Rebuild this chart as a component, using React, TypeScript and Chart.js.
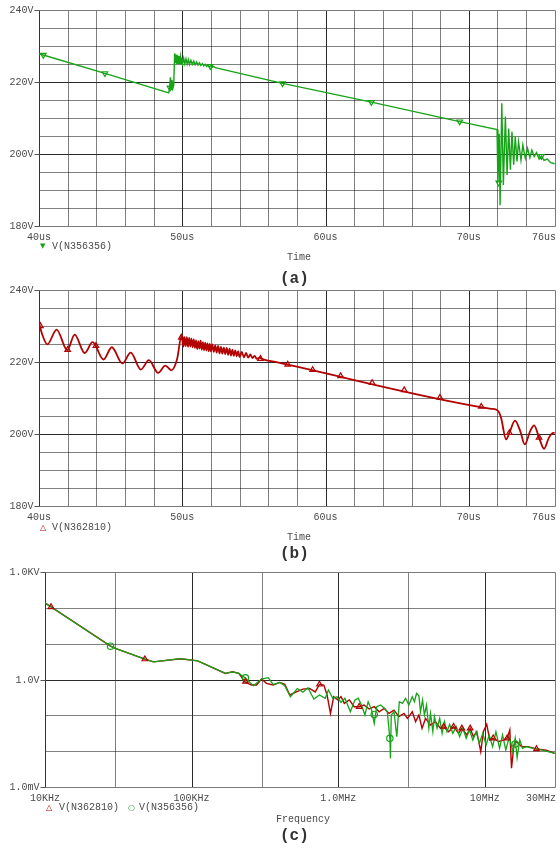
import React, { useEffect, useRef } from "react";
import { Chart, registerables } from "chart.js";

Chart.register(...registerables);

const GREEN = "#17a317";
const RED = "#b30000";
const TXT = "#4a4a4a";
const MONO = '"Liberation Mono", "DejaVu Sans Mono", monospace';

// ---------------- (a) V(N356356) transient ----------------
const timeA = [40.0, 40.3, 44.6, 49.05, 49.12, 49.17, 49.22, 49.28, 49.34, 49.40, 49.47, 49.52, 49.57, 49.62, 49.67, 49.72, 49.77, 49.82, 49.87, 49.92, 49.97, 50.02, 50.10, 50.18, 50.26, 50.34, 50.42, 50.50, 50.60, 50.70, 50.80, 50.90, 51.00, 51.10, 51.20, 51.30, 51.40, 51.50, 51.60, 51.70, 51.80, 51.90, 52.00, 52.10, 52.20, 52.30, 57.0, 63.2, 69.36, 71.97, 72.03, 72.12, 72.18, 72.30, 72.41, 72.55, 72.67, 72.78, 72.90, 73.01, 73.13, 73.24, 73.36, 73.47, 73.64, 73.77, 73.94, 74.10, 74.26, 74.40, 74.56, 74.72, 74.91, 75.07, 75.25, 75.48, 75.71, 76.0];
const voltA = [227.8, 227.5, 222.4, 217.0, 218.3, 221.3, 218.0, 220.6, 218.2, 219.0, 228.0, 225.2, 227.6, 225.0, 227.4, 225.1, 227.2, 225.0, 227.0, 225.1, 226.8, 225.0, 226.6, 225.0, 226.4, 225.0, 226.2, 224.9, 226.0, 224.9, 225.8, 224.8, 225.6, 224.7, 225.3, 224.6, 225.1, 224.5, 224.9, 224.3, 224.7, 224.2, 224.5, 224.1, 224.3, 224.0, 219.6, 214.4, 209.0, 206.8, 192.0, 205.6, 185.8, 214.1, 191.4, 210.4, 194.2, 207.1, 195.6, 206.2, 197.0, 204.8, 197.9, 203.4, 198.3, 202.5, 198.8, 201.6, 199.0, 201.1, 199.3, 200.4, 198.6, 199.4, 198.2, 198.6, 197.6, 197.3];
const markTimeA = [40.3, 44.6, 49.14, 51.96, 57.0, 63.2, 69.36, 72.09, 75.07];
const markVoltA = [227.5, 222.4, 218.4, 224.4, 219.6, 214.4, 209.0, 192.0, 199.4];

// ---------------- (b) V(N362810) transient ----------------
const timeB = [40.0, 40.23, 40.58, 41.23, 41.97, 42.49, 43.19, 43.74, 44.5, 45.08, 45.82, 46.4, 47.11, 47.67, 48.31, 48.82, 49.24, 49.63, 49.95, 50.08, 50.16, 50.24, 50.32, 50.40, 50.48, 50.56, 50.64, 50.72, 50.80, 50.88, 50.96, 51.04, 51.12, 51.20, 51.28, 51.36, 51.44, 51.52, 51.60, 51.68, 51.76, 51.84, 51.92, 52.00, 52.10, 52.20, 52.30, 52.40, 52.50, 52.60, 52.70, 52.80, 52.90, 53.00, 53.10, 53.20, 53.30, 53.40, 53.50, 53.60, 53.70, 53.80, 53.90, 54.00, 54.15, 54.30, 54.45, 54.60, 54.75, 54.90, 55.05, 55.20, 55.40, 55.60, 56.65, 71.56, 72.02, 72.25, 72.6, 72.83, 73.22, 73.59, 73.9, 74.28, 74.56, 74.9, 75.25, 75.59, 75.9, 76.0];
const voltB = [230.9, 227.6, 224.9, 229.0, 223.3, 227.6, 222.5, 225.5, 220.7, 224.1, 219.6, 222.6, 217.9, 220.5, 217.0, 219.0, 217.7, 220.7, 227.2, 224.3, 226.9, 224.4, 226.9, 224.2, 226.7, 224.3, 226.5, 224.1, 226.3, 223.9, 226.0, 223.6, 225.8, 223.7, 225.9, 223.4, 225.5, 223.3, 225.4, 223.2, 225.2, 223.0, 225.0, 222.9, 224.9, 222.8, 224.6, 222.6, 224.5, 222.4, 224.2, 222.3, 224.0, 222.2, 223.9, 222.0, 223.7, 221.8, 223.4, 221.7, 223.2, 221.6, 223.0, 221.4, 222.8, 221.3, 222.5, 221.2, 222.1, 221.1, 221.7, 220.9, 221.2, 220.8, 219.9, 207.0, 206.5, 204.5, 198.5, 200.3, 203.7, 200.8, 197.1, 200.8, 202.4, 199.0, 195.9, 199.0, 200.3, 200.3];
const markTimeB = [40.1, 42.0, 43.97, 49.93, 55.46, 57.36, 59.1, 61.05, 63.25, 65.49, 67.98, 70.87, 72.83, 74.9];
const markVoltB = [230.0, 223.4, 224.5, 226.8, 220.9, 219.3, 217.8, 216.1, 214.2, 212.2, 210.1, 207.6, 200.3, 199.0];

// ---------------- (c) spectra ----------------
const lowFreq = [10000, 11000, 28000, 30500, 48000, 55000, 84000, 110000, 170000, 190000, 210000];
const lowMag = [137, 106, 8.5, 7.3, 3.7, 3.1, 3.8, 3.3, 1.48, 1.64, 1.48];

const redFreqTail = [231e3, 256e3, 277e3, 300e3, 324e3, 360e3, 399e3, 432e3, 467e3, 518e3, 574e3, 638e3, 697e3, 745e3, 798e3, 839e3, 885e3, 931e3, 993e3, 1.045e6, 1.10e6, 1.19e6, 1.285e6, 1.39e6, 1.50e6, 1.625e6, 1.76e6, 1.90e6, 2.06e6, 2.22e6, 2.40e6, 2.59e6, 2.81e6, 2.96e6, 3.03e6, 3.20e6, 3.37e6, 3.55e6, 3.73e6, 3.94e6, 4.26e6, 4.60e6, 4.98e6, 5.24e6, 5.66e6, 6.12e6, 6.62e6, 6.97e6, 7.53e6, 7.94e6, 8.36e6, 8.81e6, 9.38e6, 9.77e6, 10.3e6, 10.8e6, 11.4e6, 12.4e6, 13.4e6, 14.2e6, 14.8e6, 15.2e6, 15.8e6, 16.4e6, 17.8e6, 19.7e6, 22.5e6, 26.2e6, 30e6];
const redMagTail = [0.86, 0.70, 0.70, 1.03, 0.78, 0.70, 0.83, 0.73, 0.37, 0.45, 0.54, 0.56, 0.45, 0.73, 0.70, 0.37, 0.113, 0.33, 0.27, 0.33, 0.215, 0.27, 0.174, 0.174, 0.194, 0.15, 0.174, 0.126, 0.156, 0.113, 0.14, 0.092, 0.113, 0.082, 0.092, 0.126, 0.0665, 0.102, 0.0434, 0.082, 0.0537, 0.0665, 0.0434, 0.0483, 0.035, 0.0483, 0.0315, 0.0434, 0.0283, 0.0434, 0.0254, 0.035, 0.0097, 0.035, 0.0561, 0.0205, 0.0229, 0.0185, 0.0205, 0.0229, 0.039, 0.00333, 0.0149, 0.0185, 0.0134, 0.0134, 0.0115, 0.0106, 0.0087];

const greenFreqTail = [231e3, 264e3, 300e3, 333e3, 360e3, 399e3, 432e3, 472e3, 526e3, 574e3, 621e3, 682e3, 745e3, 815e3, 857e3, 918e3, 982e3, 1.045e6, 1.11e6, 1.21e6, 1.30e6, 1.37e6, 1.44e6, 1.52e6, 1.60e6, 1.69e6, 1.76e6, 1.83e6, 1.95e6, 2.07e6, 2.16e6, 2.25e6, 2.27e6, 2.30e6, 2.40e6, 2.51e6, 2.61e6, 2.74e6, 2.88e6, 2.96e6, 3.03e6, 3.20e6, 3.31e6, 3.42e6, 3.55e6, 3.64e6, 3.76e6, 3.87e6, 4.00e6, 4.15e6, 4.26e6, 4.42e6, 4.53e6, 4.72e6, 4.92e6, 5.11e6, 5.30e6, 5.52e6, 5.75e6, 6.05e6, 6.38e6, 6.73e6, 7.08e6, 7.46e6, 7.85e6, 8.28e6, 8.71e6, 9.18e6, 9.68e6, 10.2e6, 10.7e6, 11.3e6, 11.9e6, 12.6e6, 13.2e6, 13.9e6, 14.7e6, 15.5e6, 16.1e6, 16.6e6, 17.3e6, 18.1e6, 19.2e6, 21.3e6, 23.7e6, 26.2e6, 30e6];
const greenMagTail = [1.12, 0.67, 1.03, 1.12, 0.73, 0.83, 0.67, 0.33, 0.56, 0.44, 0.59, 0.284, 0.37, 0.30, 0.51, 0.30, 0.33, 0.23, 0.30, 0.126, 0.27, 0.30, 0.194, 0.102, 0.24, 0.14, 0.0597, 0.174, 0.194, 0.156, 0.126, 0.0228, 0.0063, 0.102, 0.126, 0.0254, 0.24, 0.215, 0.30, 0.24, 0.194, 0.33, 0.24, 0.41, 0.35, 0.126, 0.27, 0.102, 0.194, 0.0434, 0.113, 0.035, 0.092, 0.0434, 0.082, 0.0315, 0.0665, 0.035, 0.0561, 0.0315, 0.0483, 0.0254, 0.0434, 0.0229, 0.039, 0.0205, 0.035, 0.0166, 0.0315, 0.0149, 0.0283, 0.0134, 0.035, 0.012, 0.0283, 0.0108, 0.0254, 0.0097, 0.0229, 0.0066, 0.0205, 0.012, 0.0134, 0.012, 0.0113, 0.0101, 0.0087];

const markRedFreq = [11000, 48000, 233000, 745000, 1.39e6, 5.24e6, 6.12e6, 6.97e6, 7.94e6, 11.4e6, 14.2e6, 22.5e6];
const markRedMag = [106, 3.7, 0.88, 0.73, 0.174, 0.0483, 0.0483, 0.0434, 0.0434, 0.0229, 0.0229, 0.0115];
const markGreenFreq = [28000, 233000, 1.76e6, 2.25e6, 16.1e6];
const markGreenMag = [8.5, 1.12, 0.106, 0.0228, 0.0159];

// ---------------- axes: ticks & grids ----------------
const timeTicks = [40, 50, 60, 70, 76];
const timeMajor = [50, 60, 70];
const timeMinor = [42, 44, 46, 48, 52, 54, 56, 58, 62, 64, 66, 68, 72, 74];
const voltTicks = [180, 200, 220, 240];
const voltMajor = [200, 220];
const voltMinor = [185, 190, 195, 205, 210, 215, 225, 230, 235];

const freqTicks = [1e4, 1e5, 1e6, 1e7, 3e7];
const freqTickLabels = ["10KHz", "100KHz", "1.0MHz", "10MHz", "30MHz"];
const freqMajor = [1e5, 1e6, 1e7];
const freqMinor = [3e4, 3e5, 3e6];
const magTicks = [1e-3, 1, 1e3];
const magTickLabels = ["1.0mV", "1.0V", "1.0KV"];
const magMajor = [1];
const magMinor = [1e-2, 1e-1, 10, 100];

type Grid = {
  xMajor: number[]; xMinor: number[]; yMajor: number[]; yMinor: number[];
  xTicks: number[]; xLabels: string[]; yTicks: number[]; yLabels: string[];
};

function framePlugin(g: Grid) {
  return {
    id: "pspiceFrame",
    beforeDatasetsDraw(chart: any) {
      const { ctx } = chart;
      const sx = chart.scales.x;
      const sy = chart.scales.y;
      const px = (v: number) => Math.round(sx.getPixelForValue(v)) + 0.5;
      const py = (v: number) => Math.round(sy.getPixelForValue(v)) + 0.5;
      const L = px(sx.min), R = px(sx.max), T = py(sy.max), B = py(sy.min);
      ctx.save();
      ctx.lineWidth = 1;
      // dotted minor grid
      ctx.setLineDash([1, 1]);
      ctx.strokeStyle = "#000";
      ctx.beginPath();
      g.xMinor.forEach((v) => { const p = px(v); ctx.moveTo(p, T); ctx.lineTo(p, B); });
      g.yMinor.forEach((v) => { const p = py(v); ctx.moveTo(L, p); ctx.lineTo(R, p); });
      ctx.stroke();
      // solid major grid
      ctx.setLineDash([]);
      ctx.strokeStyle = "#2a2a2a";
      ctx.beginPath();
      g.xMajor.forEach((v) => { const p = px(v); ctx.moveTo(p, T); ctx.lineTo(p, B); });
      g.yMajor.forEach((v) => { const p = py(v); ctx.moveTo(L, p); ctx.lineTo(R, p); });
      ctx.stroke();
      // frame
      ctx.strokeStyle = "#7a7a7a";
      ctx.beginPath();
      ctx.moveTo(L, T); ctx.lineTo(R, T); ctx.lineTo(R, B); ctx.lineTo(L, B);
      ctx.stroke();
      ctx.strokeStyle = "#333";
      ctx.beginPath();
      ctx.moveTo(L, T); ctx.lineTo(L, B);
      ctx.stroke();
      // tick labels
      ctx.font = `10px ${MONO}`;
      ctx.fillStyle = TXT;
      ctx.textBaseline = "middle";
      ctx.strokeStyle = "#555";
      g.yTicks.forEach((v, i) => {
        const p = py(v);
        ctx.textAlign = "right";
        ctx.fillText(g.yLabels[i], L - 6, p);
        ctx.beginPath();
        ctx.moveTo(L - 5, p);
        ctx.lineTo(L, p);
        ctx.stroke();
      });
      g.xTicks.forEach((v, i) => {
        const last = i === g.xTicks.length - 1;
        ctx.textAlign = last ? "right" : "center";
        ctx.fillText(g.xLabels[i], last ? R + 0.5 : sx.getPixelForValue(v), B + 11);
      });
      ctx.restore();
    },
  };
}

const toPts = (xs: number[], ys: number[]) => xs.map((x, i) => ({ x, y: ys[i] }));

function baseOptions(padding: any, xScale: any, yScale: any) {
  return {
    responsive: false,
    animation: false as const,
    devicePixelRatio: 1,
    events: [] as any[],
    layout: { padding },
    plugins: { legend: { display: false }, tooltip: { enabled: false } },
    scales: { x: { ...xScale, display: false }, y: { ...yScale, display: false } },
  };
}

function lineSet(data: any[], color: string, width: number, order: number, extra: any = {}) {
  return {
    data,
    borderColor: color,
    backgroundColor: color,
    borderWidth: width,
    pointRadius: 0,
    fill: false,
    tension: 0,
    order,
    ...extra,
  };
}

function markerSet(data: any[], color: string, style: string, rotation: number, order: number) {
  return {
    data,
    showLine: false,
    pointStyle: style,
    rotation,
    pointRadius: 3.2,
    pointBorderWidth: 1.2,
    pointBorderColor: color,
    pointBackgroundColor: "rgba(0,0,0,0)",
    borderColor: color,
    order,
  };
}

function configA() {
  const grid: Grid = {
    xMajor: timeMajor, xMinor: timeMinor, yMajor: voltMajor, yMinor: voltMinor,
    xTicks: timeTicks, xLabels: timeTicks.map((t) => `${t}us`),
    yTicks: voltTicks, yLabels: voltTicks.map((v) => `${v}V`),
  };
  return {
    type: "line" as const,
    data: {
      datasets: [
        lineSet(toPts(timeA, voltA), GREEN, 1.4, 1),
        markerSet(toPts(markTimeA, markVoltA), GREEN, "triangle", 180, 0),
      ],
    },
    options: baseOptions(
      { left: 39, right: 1, top: 10, bottom: 19 },
      { type: "linear", min: 40, max: 76 },
      { type: "linear", min: 180, max: 240 }
    ),
    plugins: [framePlugin(grid)],
  };
}

function configB() {
  const grid: Grid = {
    xMajor: timeMajor, xMinor: timeMinor, yMajor: voltMajor, yMinor: voltMinor,
    xTicks: timeTicks, xLabels: timeTicks.map((t) => `${t}us`),
    yTicks: voltTicks, yLabels: voltTicks.map((v) => `${v}V`),
  };
  return {
    type: "line" as const,
    data: {
      datasets: [
        lineSet(toPts(timeB, voltB), RED, 1.8, 1, { cubicInterpolationMode: "monotone" }),
        markerSet(toPts(markTimeB, markVoltB), RED, "triangle", 0, 0),
      ],
    },
    options: baseOptions(
      { left: 39, right: 1, top: 8, bottom: 19 },
      { type: "linear", min: 40, max: 76 },
      { type: "linear", min: 180, max: 240 }
    ),
    plugins: [framePlugin(grid)],
  };
}

function configC() {
  const grid: Grid = {
    xMajor: freqMajor, xMinor: freqMinor, yMajor: magMajor, yMinor: magMinor,
    xTicks: freqTicks, xLabels: freqTickLabels,
    yTicks: magTicks, yLabels: magTickLabels,
  };
  const redPts = toPts([...lowFreq, ...redFreqTail], [...lowMag, ...redMagTail]);
  const greenPts = toPts([...lowFreq, ...greenFreqTail], [...lowMag, ...greenMagTail]);
  return {
    type: "line" as const,
    data: {
      datasets: [
        lineSet(redPts, RED, 1.4, 2),
        lineSet(greenPts, GREEN, 1.3, 1),
        markerSet(toPts(markRedFreq, markRedMag), RED, "triangle", 0, 0),
        markerSet(toPts(markGreenFreq, markGreenMag), GREEN, "circle", 0, 0),
      ],
    },
    options: baseOptions(
      { left: 45, right: 1, top: 10, bottom: 20 },
      { type: "logarithmic", min: 1e4, max: 3e7 },
      { type: "logarithmic", min: 1e-3, max: 1e3 }
    ),
    plugins: [framePlugin(grid)],
  };
}

function Plot({ top, height, make }: { top: number; height: number; make: () => any }) {
  const ref = useRef<HTMLCanvasElement>(null);
  useEffect(() => {
    if (!ref.current) return;
    const chart = new Chart(ref.current, make());
    return () => chart.destroy();
  }, []);
  return (
    <canvas
      ref={ref}
      width={560}
      height={height}
      style={{ position: "absolute", left: 0, top, width: 560, height, display: "block" }}
    />
  );
}

function Txt({ x, y, size = 10, color = TXT, bold = false, family = MONO, children }: any) {
  return (
    <div
      style={{
        position: "absolute",
        left: x,
        top: y - (size + 2) / 2,
        fontFamily: family,
        fontSize: size,
        fontWeight: bold ? 700 : 400,
        lineHeight: `${size + 2}px`,
        color,
        whiteSpace: "pre",
      }}
    >
      {children}
    </div>
  );
}

const SYM = '"DejaVu Sans", sans-serif';

export default function App() {
  return (
    <div style={{ position: "absolute", left: 0, top: 0, width: 560, height: 849, background: "#fff", overflow: "hidden" }}>
      <Plot top={0} height={245} make={configA} />
      <Txt x={40} y={246.5} size={7} color={GREEN} family={SYM}>▼</Txt>
      <Txt x={52} y={246.5}>V(N356356)</Txt>
      <Txt x={287} y={257.5}>Time</Txt>
      <Txt x={280} y={279} size={16} bold color="#333">(a)</Txt>

      <Plot top={282} height={243} make={configB} />
      <Txt x={40} y={527.5} size={8} color={RED} family={SYM}>△</Txt>
      <Txt x={52} y={527.5}>V(N362810)</Txt>
      <Txt x={287} y={538.3}>Time</Txt>
      <Txt x={280} y={553.5} size={16} bold color="#333">(b)</Txt>

      <Plot top={562} height={245} make={configC} />
      <Txt x={46} y={808.3} size={8} color={RED} family={SYM}>△</Txt>
      <Txt x={59} y={808.3}>V(N362810)</Txt>
      <Txt x={128} y={808.3} size={8} color={GREEN} family={SYM}>○</Txt>
      <Txt x={139} y={808.3}>V(N356356)</Txt>
      <Txt x={276} y={819.7}>Frequency</Txt>
      <Txt x={280} y={836} size={16} bold color="#333">(c)</Txt>
    </div>
  );
}
